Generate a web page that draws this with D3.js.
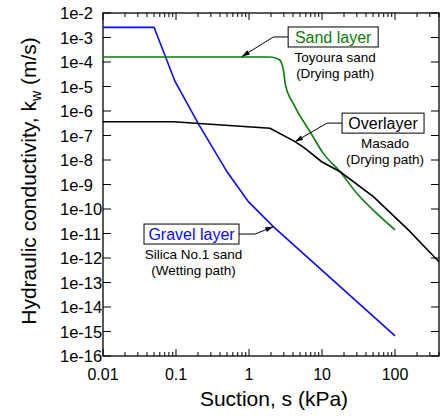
<!DOCTYPE html>
<html>
<head>
<meta charset="utf-8">
<script src="https://cdn.jsdelivr.net/npm/d3@7"></script>
<style>
  body { margin: 0; background: #fff; }
  text { font-family: Arial, "Liberation Sans", sans-serif; }
</style>
</head>
<body>
<div id="chart"></div>
<script>
// Tick values and labels
const suctionTicks = [0.01, 0.1, 1, 10, 100];
const suctionTickLabels = ['0.01', '0.1', '1', '10', '100'];
const kExponents = [-16, -15, -14, -13, -12, -11, -10, -9, -8, -7, -6, -5, -4, -3, -2];

// Gravel layer: Silica No.1 sand (wetting path)
const gravelSuction = [0.01, 0.05, 0.097, 0.2, 0.5, 0.98, 2.15, 100];
const gravelK = [2.6e-3, 2.6e-3, 1.6e-5, 3.2e-7, 3.3e-9, 2.0e-10, 1.9e-11, 6.6e-16];

// Sand layer: Toyoura sand (drying path)
const sandSuction = [0.01, 1.94, 2.58, 2.92, 3.16, 4.05, 6.85, 10.4, 17.7, 29.9, 56, 100];
const sandK = [1.6e-4, 1.6e-4, 1.26e-4, 5.7e-5, 1.15e-5, 2.0e-6, 1.43e-7, 1.86e-8, 3.3e-9, 4.4e-10, 6.6e-11, 1.4e-11];

// Overlayer: Masado (drying path)
const overSuction = [0.01, 0.092, 1.94, 4.27, 5.85, 9.9, 17.7, 50.5, 152, 400];
const overK = [3.65e-7, 3.65e-7, 1.97e-7, 5.6e-8, 3.0e-8, 8.5e-9, 3.3e-9, 3.2e-10, 1.4e-11, 7e-13];

const width = 441, height = 416;
const margin = {top: 13, right: 2, bottom: 60, left: 103};
const innerW = width - margin.left - margin.right;
const innerH = height - margin.top - margin.bottom;

const svg = d3.select('#chart')
  .append('svg')
  .attr('width', width)
  .attr('height', height);

const g = svg.append('g')
  .attr('transform', `translate(${margin.left},${margin.top})`);

const x = d3.scaleLog().domain([0.01, 400]).range([0, innerW]);
const y = d3.scaleLog().domain([1e-16, 1e-2]).range([innerH, 0]);

// minor ticks, 2..9 in each decade
const minorTicks = (scale) => scale.ticks().filter(d => {
  const m = d / Math.pow(10, Math.floor(Math.log10(d) + 1e-9));
  return Math.abs(m - 1) > 1e-6;
});

svg.append('defs').append('clipPath').attr('id', 'plot-clip')
  .append('rect').attr('width', innerW).attr('height', innerH);

// Frame
g.append('rect')
  .attr('width', innerW).attr('height', innerH)
  .attr('fill', 'none').attr('stroke', '#000').attr('stroke-width', 1.3);

const tickStroke = (sel) => sel.attr('stroke', '#000').attr('stroke-width', 1);

// X ticks, bottom and top, pointing inward
const xMinor = minorTicks(x);
[[innerH, -1], [0, 1]].forEach(([y0, dir]) => {
  g.append('g').selectAll('line.major').data(suctionTicks).join('line')
    .attr('x1', d => x(d)).attr('x2', d => x(d))
    .attr('y1', y0).attr('y2', y0 + dir * 7)
    .call(tickStroke);
  g.append('g').selectAll('line.minor').data(xMinor).join('line')
    .attr('x1', d => x(d)).attr('x2', d => x(d))
    .attr('y1', y0).attr('y2', y0 + dir * 4)
    .call(tickStroke);
});

// Y ticks, left and right, pointing inward
const kMajor = kExponents.map(e => Math.pow(10, e));
const yMinor = minorTicks(y);
[[0, 1], [innerW, -1]].forEach(([x0, dir]) => {
  g.append('g').selectAll('line.major').data(kMajor).join('line')
    .attr('x1', x0).attr('x2', x0 + dir * 8)
    .attr('y1', d => y(d)).attr('y2', d => y(d))
    .call(tickStroke);
  g.append('g').selectAll('line.minor').data(yMinor).join('line')
    .attr('x1', x0).attr('x2', x0 + dir * 5)
    .attr('y1', d => y(d)).attr('y2', d => y(d))
    .call(tickStroke);
});

// Tick labels
g.append('g').selectAll('text').data(suctionTicks).join('text')
  .attr('x', d => x(d)).attr('y', innerH + 24)
  .attr('text-anchor', 'middle').attr('font-size', 16)
  .text((d, i) => suctionTickLabels[i]);

g.append('g').selectAll('text').data(kExponents).join('text')
  .attr('x', -43).attr('y', d => y(Math.pow(10, d)) + 6)
  .attr('text-anchor', 'start').attr('font-size', 16.5)
  .text(d => `1e${d}`);

// Axis titles
g.append('text')
  .attr('x', (x(0.01) + x(400)) / 2 + 3).attr('y', innerH + 50)
  .attr('text-anchor', 'middle').attr('font-size', 21)
  .text('Suction, s (kPa)');

const yTitle = svg.append('text')
  .attr('transform', `translate(36,${margin.top + 168}) rotate(-90)`)
  .attr('text-anchor', 'middle').attr('font-size', 21);
yTitle.append('tspan').text('Hydraulic conductivity, k');
yTitle.append('tspan').attr('font-size', 14).attr('dy', 5).text('w');
yTitle.append('tspan').attr('dy', -5).text(' (m/s)');

// Curves
const line = (curve) => d3.line()
  .x(d => x(d[0]))
  .y(d => y(d[1]))
  .curve(curve);

const series = [
  {s: gravelSuction, k: gravelK, color: '#0a0aff', curve: d3.curveLinear},
  {s: sandSuction, k: sandK, color: '#0b7d0b', curve: d3.curveMonotoneX},
  {s: overSuction, k: overK, color: '#000000', curve: d3.curveLinear}
];

const plot = g.append('g').attr('clip-path', 'url(#plot-clip)');
series.forEach(sr => {
  plot.append('path')
    .datum(sr.s.map((v, i) => [v, sr.k[i]]))
    .attr('d', line(sr.curve))
    .attr('fill', 'none')
    .attr('stroke', sr.color)
    .attr('stroke-width', 1.6);
});

// Annotations (anchor points in data units)
const annotations = [
  {title: 'Sand layer', color: '#0b7d0b', lines: ['Toyoura sand', '(Drying path)'],
   box: [14.2, 1.05e-3], boxW: 90, elbow: [2.15, 1.15e-3], tip: [0.795, 1.65e-4], side: 'left'},
  {title: 'Overlayer', color: '#000', lines: ['Masado', '(Drying path)'],
   box: [68.5, 3.2e-7], boxW: 82, elbow: [11.7, 3.9e-7], tip: [4.27, 5.6e-8], side: 'left'},
  {title: 'Gravel layer', color: '#0a0aff', lines: ['Silica No.1 sand', '(Wetting path)'],
   box: [0.163, 9.5e-12], boxW: 95, elbow: [1.21, 7.9e-12], tip: [2.15, 1.9e-11], side: 'right'}
];

const ann = svg.append('g').attr('transform', `translate(${margin.left},${margin.top})`);
annotations.forEach(a => {
  const cx = x(a.box[0]), cy = y(a.box[1]);
  const edgeX = a.side === 'left' ? cx - a.boxW / 2 : cx + a.boxW / 2;
  const ex = x(a.elbow[0]), tx = x(a.tip[0]), ty = y(a.tip[1]);

  ann.append('polyline')
    .attr('points', `${edgeX},${cy} ${ex},${cy} ${tx},${ty}`)
    .attr('fill', 'none').attr('stroke', '#000').attr('stroke-width', 1);

  // arrow head
  const ang = Math.atan2(ty - cy, tx - ex);
  const len = 8, wid = 2.5;
  const bx = tx - len * Math.cos(ang), by = ty - len * Math.sin(ang);
  const px = -Math.sin(ang) * wid, py = Math.cos(ang) * wid;
  ann.append('path')
    .attr('d', `M${tx},${ty}L${bx + px},${by + py}L${bx - px},${by - py}Z`)
    .attr('fill', '#000');

  ann.append('rect')
    .attr('x', cx - a.boxW / 2).attr('y', cy - 10)
    .attr('width', a.boxW).attr('height', 20)
    .attr('fill', '#fff').attr('stroke', '#000').attr('stroke-width', 1);

  ann.append('text')
    .attr('x', cx).attr('y', cy + 6)
    .attr('text-anchor', 'middle').attr('font-size', 16)
    .attr('fill', a.color).text(a.title);

  a.lines.forEach((t, i) => {
    ann.append('text')
      .attr('x', cx + 2).attr('y', cy + 25 + i * 16)
      .attr('text-anchor', 'middle').attr('font-size', 13.5)
      .attr('fill', '#000').text(t);
  });
});
</script>
</body>
</html>
